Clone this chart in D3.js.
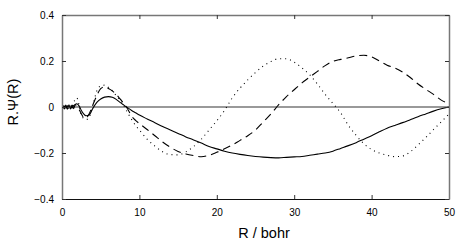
<!DOCTYPE html>
<html><head><meta charset="utf-8">
<script src="https://cdn.jsdelivr.net/npm/d3@7"></script>
<style>body{margin:0;background:#fff}svg{display:block}text{font-family:"Liberation Sans",Arial,sans-serif}</style>
</head><body><svg id="c" width="463" height="245"></svg>
<script>
const R = [0.1,0.3,0.5,0.7,0.9,1.1,1.3,1.5,1.7,1.9,2.2,2.5,2.8,3.1,3.5,4,4.5,5,5.5,6,6.5,7,7.5,8,8.5,9,9.5,10,11,12,13,14,15,16,17,18,19,20,21,22,23,24,25,26,27,28,29,30,31,32,33,34,35,36,37,38,39,40,41,42,43,44,45,46,47,48,49,50];
const solid = [0.008,-0.009,0.009,-0.01,0.01,-0.009,0.008,-0.007,0.01,0.014,0.005,-0.015,-0.03,-0.038,-0.035,-0.005,0.02,0.035,0.043,0.045,0.042,0.033,0.02,0.008,-0.004,-0.015,-0.025,-0.035,-0.052,-0.068,-0.085,-0.1,-0.115,-0.13,-0.143,-0.157,-0.172,-0.182,-0.192,-0.2,-0.206,-0.211,-0.215,-0.218,-0.22,-0.221,-0.219,-0.217,-0.215,-0.21,-0.205,-0.2,-0.192,-0.18,-0.168,-0.155,-0.14,-0.125,-0.108,-0.092,-0.08,-0.068,-0.055,-0.042,-0.03,-0.018,-0.008,0];
const dashed = [0,0.004,-0.004,0.005,-0.005,0.005,-0.004,0.006,0.01,0.005,-0.01,-0.03,-0.045,-0.048,-0.03,0.01,0.05,0.08,0.088,0.08,0.07,0.055,0.035,0.015,-0.01,-0.04,-0.058,-0.072,-0.098,-0.125,-0.152,-0.175,-0.193,-0.204,-0.211,-0.216,-0.21,-0.197,-0.182,-0.165,-0.145,-0.125,-0.1,-0.065,-0.03,0.01,0.045,0.075,0.105,0.13,0.155,0.18,0.198,0.207,0.214,0.222,0.225,0.218,0.2,0.182,0.17,0.152,0.128,0.1,0.077,0.055,0.03,0.015];
const dotted = [0,0.005,-0.005,0.006,-0.006,0.008,-0.005,0.02,0.03,0.04,0.01,-0.035,-0.05,-0.055,-0.045,0.01,0.07,0.092,0.095,0.085,0.07,0.05,0.03,0.005,-0.026,-0.055,-0.08,-0.1,-0.14,-0.17,-0.195,-0.207,-0.208,-0.195,-0.172,-0.14,-0.1,-0.06,-0.015,0.04,0.082,0.118,0.15,0.178,0.198,0.21,0.21,0.195,0.17,0.14,0.1,0.055,0.015,-0.025,-0.08,-0.123,-0.16,-0.185,-0.2,-0.21,-0.216,-0.213,-0.195,-0.165,-0.133,-0.098,-0.065,-0.03];
const xTicks = [0,10,20,30,40,50];
const yTicks = [-0.4,-0.2,0,0.2,0.4];
const xTitle = "R / bohr";
const yTitle = "R.\u03A8(R)";

const svg = d3.select("#c");
const L=62,Rt=449,T=15,B=199;
const x = d3.scaleLinear().domain([0,50]).range([L,Rt]);
const y = d3.scaleLinear().domain([-0.4,0.4]).range([B,T]);
const fmt = d => d===0 ? "0" : d3.format(".1f")(d).replace("-","\u2212");

svg.append("line").attr("x1",L).attr("x2",Rt).attr("y1",y(0)).attr("y2",y(0)).attr("stroke","#777").attr("stroke-width",1.3);

const line = d3.line().x((d,i)=>x(R[i])).y(d=>y(d)).curve(d3.curveMonotoneX);
const g = svg.append("g").attr("fill","none").attr("stroke","#000");
g.append("path").attr("d",line(solid)).attr("stroke-width",1.1);
g.append("path").attr("d",line(dashed)).attr("stroke-width",1.1).attr("stroke-dasharray","8,5");
g.append("path").attr("d",line(dotted)).attr("stroke-width",1.1).attr("stroke-dasharray","1,4");

const ax = svg.append("g").attr("font-size",14);
const axB = ax.append("g").attr("transform",`translate(0,${B})`).call(d3.axisBottom(x).tickValues(xTicks).tickSize(-4).tickPadding(10).tickSizeOuter(0));
const axT = ax.append("g").attr("transform",`translate(0,${T})`).call(d3.axisTop(x).tickValues(xTicks).tickSize(-4).tickFormat("").tickSizeOuter(0));
const axL = ax.append("g").attr("transform",`translate(${L},0)`).call(d3.axisLeft(y).tickValues(yTicks).tickSize(-4).tickPadding(10).tickFormat(fmt).tickSizeOuter(0));
const axR = ax.append("g").attr("transform",`translate(${Rt},0)`).call(d3.axisRight(y).tickValues(yTicks).tickSize(-4).tickFormat("").tickSizeOuter(0));
[axT,axL,axR].forEach(a=>{a.select(".domain").attr("stroke","#777").attr("stroke-width",1.5);a.selectAll(".tick line").attr("stroke","#333");});
axB.select(".domain").attr("stroke","#111").attr("stroke-width",1.2);
axB.selectAll(".tick line").attr("stroke","#333");
ax.selectAll("text").attr("fill","#000").attr("font-family","Liberation Sans, Arial, sans-serif");
axL.selectAll(".tick text").attr("dx",2);

svg.append("text").attr("x",264).attr("y",238).attr("text-anchor","middle").attr("font-size",14.5).text(xTitle);
svg.append("text").attr("transform","translate(18,102) rotate(-90)").attr("text-anchor","middle").attr("font-size",14.5).text(yTitle);
</script></body></html>
